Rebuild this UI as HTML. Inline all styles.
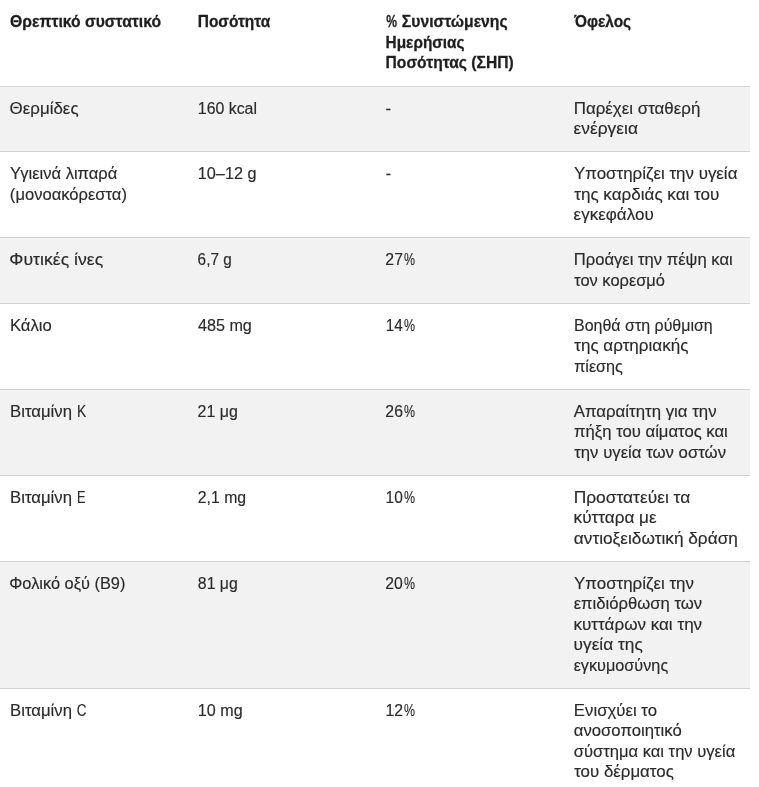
<!DOCTYPE html>
<html lang="el">
<head>
<meta charset="utf-8">
<title>Θρεπτικά συστατικά</title>
<style>
html,body{margin:0;padding:0;background:#fff;}
body{position:relative;width:759px;height:787px;overflow:hidden;font-family:"Liberation Sans",sans-serif;color:#2a2a2a;font-size:16px;}
.t{position:absolute;left:0;top:0;width:750px;height:787px;will-change:transform;}
.g{position:absolute;left:0;width:750px;background:#f2f2f2;}
.b{position:absolute;left:0;width:750px;height:1px;background:#d2d2d2;}
.l{left:0;-webkit-text-stroke:0.15px #2a2a2a;position:absolute;white-space:nowrap;line-height:20px;height:20px;transform-origin:0 0;display:block;}
.h{font-weight:bold;-webkit-text-stroke:0.28px #1e1e1e;color:#1e1e1e;}
</style>
</head>
<body>
<div class="t">
<div class="g" style="top:86px;height:65px"></div>
<div class="g" style="top:237px;height:66px"></div>
<div class="g" style="top:389px;height:86px"></div>
<div class="g" style="top:561px;height:127px"></div>
<div class="b" style="top:86px"></div>
<div class="b" style="top:151px"></div>
<div class="b" style="top:237px"></div>
<div class="b" style="top:303px"></div>
<div class="b" style="top:389px"></div>
<div class="b" style="top:475px"></div>
<div class="b" style="top:561px"></div>
<div class="b" style="top:688px"></div>
<div class="l h" style="top:12px;transform:translateX(10.05px) scaleX(0.9809)">Θρεπτικό συστατικό</div>
<div class="l h" style="top:12px;transform:translateX(197.72px) scaleX(0.9662)">Ποσότητα</div>
<div class="l h" style="top:12px;transform:translateX(386.29px) scaleX(0.7570)">%</div>
<div class="l h" style="top:12px;transform:translateX(401.86px) scaleX(0.9804)">Συνιστώμενης</div>
<div class="l h" style="top:33px;transform:translateX(385.57px) scaleX(0.9610)">Ημερήσιας</div>
<div class="l h" style="top:53px;transform:translateX(385.56px) scaleX(0.9766)">Ποσότητας (ΣΗΠ)</div>
<div class="l h" style="top:12px;transform:translateX(574.19px) scaleX(0.9644)">Όφελος</div>
<div class="l" style="top:99px;transform:translateX(9.62px) scaleX(1.0569)">Θερμίδες</div>
<div class="l" style="top:99px;transform:translateX(197.80px) scaleX(0.9924)">160 kcal</div>
<div class="l" style="top:99px;transform:translateX(385.62px) scaleX(1.0450)">-</div>
<div class="l" style="top:99px;transform:translateX(573.71px) scaleX(1.0566)">Παρέχει σταθερή</div>
<div class="l" style="top:119px;transform:translateX(573.60px) scaleX(1.0846)">ενέργεια</div>
<div class="l" style="top:164px;transform:translateX(10.06px) scaleX(1.0320)">Υγιεινά λιπαρά</div>
<div class="l" style="top:185px;transform:translateX(9.87px) scaleX(1.0355)">(μονοακόρεστα)</div>
<div class="l" style="top:164px;transform:translateX(197.81px) scaleX(1.0139)">10–12 g</div>
<div class="l" style="top:164px;transform:translateX(385.62px) scaleX(1.0450)">-</div>
<div class="l" style="top:164px;transform:translateX(574.02px) scaleX(1.0563)">Υποστηρίζει την υγεία</div>
<div class="l" style="top:185px;transform:translateX(574.18px) scaleX(1.0661)">της καρδιάς και του</div>
<div class="l" style="top:205px;transform:translateX(573.59px) scaleX(1.0643)">εγκεφάλου</div>
<div class="l" style="top:250px;transform:translateX(9.36px) scaleX(1.1029)">Φυτικές ίνες</div>
<div class="l" style="top:250px;transform:translateX(197.62px) scaleX(0.9567)">6,7 g</div>
<div class="l" style="top:250px;transform:translateX(385.36px) scaleX(0.9856)">27</div>
<div class="l" style="top:250px;transform:translateX(404.11px) scaleX(0.7755)">%</div>
<div class="l" style="top:250px;transform:translateX(573.73px) scaleX(1.0380)">Προάγει την πέψη και</div>
<div class="l" style="top:271px;transform:translateX(574.18px) scaleX(1.0274)">τον κορεσμό</div>
<div class="l" style="top:316px;transform:translateX(9.88px) scaleX(1.0409)">Κάλιο</div>
<div class="l" style="top:316px;transform:translateX(197.92px) scaleX(1.0108)">485 mg</div>
<div class="l" style="top:316px;transform:translateX(385.69px) scaleX(0.9520)">14</div>
<div class="l" style="top:316px;transform:translateX(404.10px) scaleX(0.7758)">%</div>
<div class="l" style="top:316px;transform:translateX(574.03px) scaleX(0.9988)">Βοηθά στη ρύθμιση</div>
<div class="l" style="top:336px;transform:translateX(574.19px) scaleX(1.0647)">της αρτηριακής</div>
<div class="l" style="top:357px;transform:translateX(574.15px) scaleX(1.0103)">πίεσης</div>
<div class="l" style="top:402px;transform:translateX(10.07px) scaleX(1.0445)">Βιταμίνη</div>
<div class="l" style="top:402px;transform:translateX(76.90px) scaleX(0.8612)">K</div>
<div class="l" style="top:402px;transform:translateX(197.55px) scaleX(0.9962)">21 μg</div>
<div class="l" style="top:402px;transform:translateX(385.36px) scaleX(0.9857)">26</div>
<div class="l" style="top:402px;transform:translateX(404.11px) scaleX(0.7755)">%</div>
<div class="l" style="top:402px;transform:translateX(573.67px) scaleX(1.0509)">Απαραίτητη για την</div>
<div class="l" style="top:422px;transform:translateX(574.10px) scaleX(1.0405)">πήξη του αίματος και</div>
<div class="l" style="top:443px;transform:translateX(574.20px) scaleX(1.0458)">την υγεία των οστών</div>
<div class="l" style="top:488px;transform:translateX(10.07px) scaleX(1.0449)">Βιταμίνη</div>
<div class="l" style="top:488px;transform:translateX(76.90px) scaleX(0.7917)">E</div>
<div class="l" style="top:488px;transform:translateX(197.86px) scaleX(0.9849)">2,1 mg</div>
<div class="l" style="top:488px;transform:translateX(385.58px) scaleX(0.9705)">10</div>
<div class="l" style="top:488px;transform:translateX(404.10px) scaleX(0.7758)">%</div>
<div class="l" style="top:488px;transform:translateX(573.71px) scaleX(1.0844)">Προστατεύει τα</div>
<div class="l" style="top:508px;transform:translateX(573.62px) scaleX(1.0689)">κύτταρα με</div>
<div class="l" style="top:529px;transform:translateX(573.80px) scaleX(1.0772)">αντιοξειδωτική δράση</div>
<div class="l" style="top:574px;transform:translateX(9.31px) scaleX(1.0224)">Φολικό οξύ (B9)</div>
<div class="l" style="top:574px;transform:translateX(197.87px) scaleX(0.9883)">81 μg</div>
<div class="l" style="top:574px;transform:translateX(385.36px) scaleX(0.9827)">20</div>
<div class="l" style="top:574px;transform:translateX(404.11px) scaleX(0.7755)">%</div>
<div class="l" style="top:574px;transform:translateX(574.08px) scaleX(1.0551)">Υποστηρίζει την</div>
<div class="l" style="top:594px;transform:translateX(573.67px) scaleX(1.0406)">επιδιόρθωση των</div>
<div class="l" style="top:615px;transform:translateX(573.53px) scaleX(1.0652)">κυττάρων και την</div>
<div class="l" style="top:635px;transform:translateX(573.62px) scaleX(1.0783)">υγεία της</div>
<div class="l" style="top:656px;transform:translateX(573.64px) scaleX(1.0143)">εγκυμοσύνης</div>
<div class="l" style="top:701px;transform:translateX(10.07px) scaleX(1.0449)">Βιταμίνη</div>
<div class="l" style="top:701px;transform:translateX(76.78px) scaleX(0.8440)">C</div>
<div class="l" style="top:701px;transform:translateX(197.87px) scaleX(1.0057)">10 mg</div>
<div class="l" style="top:701px;transform:translateX(385.44px) scaleX(0.9864)">12</div>
<div class="l" style="top:701px;transform:translateX(404.10px) scaleX(0.7758)">%</div>
<div class="l" style="top:701px;transform:translateX(573.86px) scaleX(1.0469)">Ενισχύει το</div>
<div class="l" style="top:721px;transform:translateX(573.81px) scaleX(1.0427)">ανοσοποιητικό</div>
<div class="l" style="top:742px;transform:translateX(573.68px) scaleX(1.0354)">σύστημα και την υγεία</div>
<div class="l" style="top:762px;transform:translateX(574.20px) scaleX(1.0537)">του δέρματος</div>
</div>
</body>
</html>
